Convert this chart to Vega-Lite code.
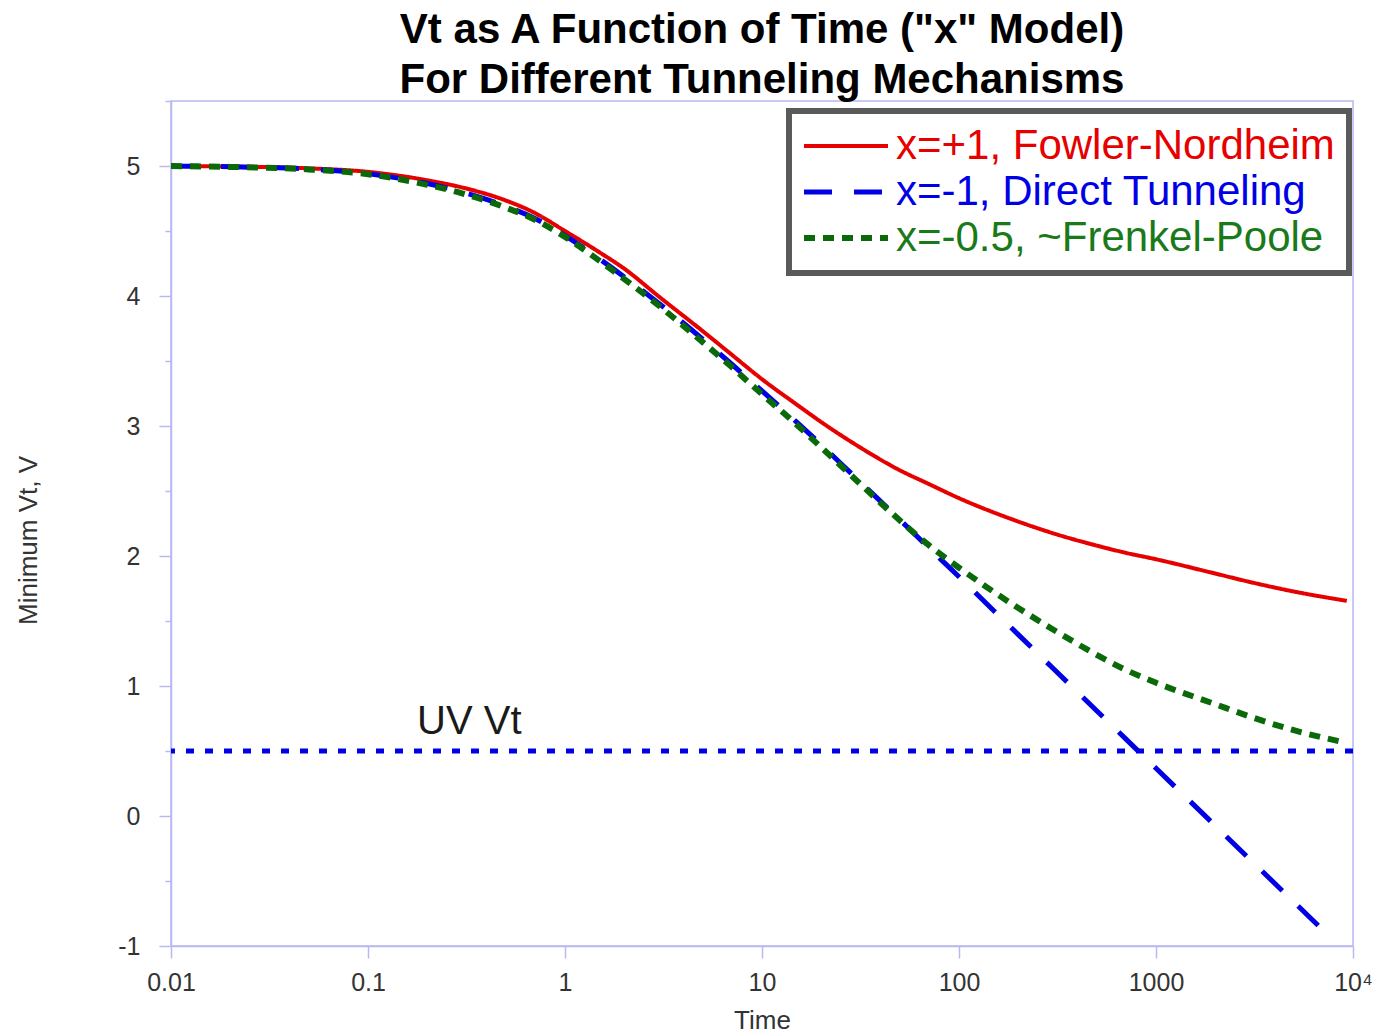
{
  "$schema": "https://vega.github.io/schema/vega-lite/v6.json",
  "width": 1182,
  "height": 845,
  "autosize": {"type": "none"},
  "padding": {"left": 171, "top": 101, "right": 27, "bottom": 88},
  "background": "white",
  "title": {
    "text": ["Vt as A Function of Time (\"x\" Model)", "For Different Tunneling Mechanisms"],
    "font": "Liberation Sans",
    "fontSize": 42,
    "fontWeight": "bold",
    "color": "#000000",
    "lineHeight": 50,
    "anchor": "middle",
    "offset": -2
  },
  "config": {
    "view": {"stroke": "#b8b8f2", "strokeWidth": 1.5},
    "font": "Liberation Sans"
  },
  "datasets": {
    "curves": [
      {"t": 0.01, "v": 5.0, "s": "FN"}, {"t": 0.02, "v": 4.996, "s": "FN"}, {"t": 0.05, "v": 4.982, "s": "FN"}, {"t": 0.1, "v": 4.955, "s": "FN"}, {"t": 0.2, "v": 4.89, "s": "FN"}, {"t": 0.3, "v": 4.835, "s": "FN"}, {"t": 0.5, "v": 4.735, "s": "FN"}, {"t": 0.7, "v": 4.64, "s": "FN"}, {"t": 1, "v": 4.5, "s": "FN"}, {"t": 1.5, "v": 4.335, "s": "FN"}, {"t": 2, "v": 4.21, "s": "FN"}, {"t": 3, "v": 3.995, "s": "FN"}, {"t": 5, "v": 3.73, "s": "FN"}, {"t": 7, "v": 3.55, "s": "FN"}, {"t": 10, "v": 3.36, "s": "FN"}, {"t": 15, "v": 3.165, "s": "FN"}, {"t": 20, "v": 3.03, "s": "FN"}, {"t": 30, "v": 2.855, "s": "FN"}, {"t": 50, "v": 2.66, "s": "FN"}, {"t": 70, "v": 2.555, "s": "FN"}, {"t": 100, "v": 2.445, "s": "FN"}, {"t": 200, "v": 2.265, "s": "FN"}, {"t": 300, "v": 2.175, "s": "FN"}, {"t": 500, "v": 2.08, "s": "FN"}, {"t": 700, "v": 2.025, "s": "FN"}, {"t": 1000, "v": 1.975, "s": "FN"}, {"t": 2000, "v": 1.865, "s": "FN"}, {"t": 3000, "v": 1.8, "s": "FN"}, {"t": 5000, "v": 1.727, "s": "FN"}, {"t": 9300, "v": 1.655, "s": "FN"},
      {"t": 0.01, "v": 5.0, "s": "DT"}, {"t": 0.02, "v": 4.994, "s": "DT"}, {"t": 0.05, "v": 4.976, "s": "DT"}, {"t": 0.1, "v": 4.94, "s": "DT"}, {"t": 0.2, "v": 4.865, "s": "DT"}, {"t": 0.3, "v": 4.8, "s": "DT"}, {"t": 0.5, "v": 4.691, "s": "DT"}, {"t": 0.7, "v": 4.598, "s": "DT"}, {"t": 1, "v": 4.465, "s": "DT"}, {"t": 1.5, "v": 4.284, "s": "DT"}, {"t": 2, "v": 4.147, "s": "DT"}, {"t": 3, "v": 3.943, "s": "DT"}, {"t": 5, "v": 3.668, "s": "DT"}, {"t": 7, "v": 3.477, "s": "DT"}, {"t": 10, "v": 3.27, "s": "DT"}, {"t": 15, "v": 3.03, "s": "DT"}, {"t": 20, "v": 2.855, "s": "DT"}, {"t": 30, "v": 2.6, "s": "DT"}, {"t": 50, "v": 2.28, "s": "DT"}, {"t": 70, "v": 2.065, "s": "DT"}, {"t": 100, "v": 1.84, "s": "DT"}, {"t": 200, "v": 1.395, "s": "DT"}, {"t": 300, "v": 1.136, "s": "DT"}, {"t": 500, "v": 0.81, "s": "DT"}, {"t": 700, "v": 0.595, "s": "DT"}, {"t": 1000, "v": 0.367, "s": "DT"}, {"t": 2000, "v": -0.075, "s": "DT"}, {"t": 3000, "v": -0.334, "s": "DT"}, {"t": 5000, "v": -0.66, "s": "DT"}, {"t": 7200, "v": -0.893, "s": "DT"},
      {"t": 0.01, "v": 5.0, "s": "FP"}, {"t": 0.02, "v": 4.993, "s": "FP"}, {"t": 0.05, "v": 4.974, "s": "FP"}, {"t": 0.1, "v": 4.937, "s": "FP"}, {"t": 0.2, "v": 4.855, "s": "FP"}, {"t": 0.3, "v": 4.79, "s": "FP"}, {"t": 0.5, "v": 4.68, "s": "FP"}, {"t": 0.7, "v": 4.588, "s": "FP"}, {"t": 1, "v": 4.455, "s": "FP"}, {"t": 1.5, "v": 4.27, "s": "FP"}, {"t": 2, "v": 4.13, "s": "FP"}, {"t": 3, "v": 3.925, "s": "FP"}, {"t": 5, "v": 3.645, "s": "FP"}, {"t": 7, "v": 3.455, "s": "FP"}, {"t": 10, "v": 3.245, "s": "FP"}, {"t": 15, "v": 3.01, "s": "FP"}, {"t": 20, "v": 2.835, "s": "FP"}, {"t": 30, "v": 2.585, "s": "FP"}, {"t": 50, "v": 2.275, "s": "FP"}, {"t": 70, "v": 2.085, "s": "FP"}, {"t": 100, "v": 1.91, "s": "FP"}, {"t": 200, "v": 1.6, "s": "FP"}, {"t": 300, "v": 1.435, "s": "FP"}, {"t": 500, "v": 1.24, "s": "FP"}, {"t": 700, "v": 1.125, "s": "FP"}, {"t": 1000, "v": 1.025, "s": "FP"}, {"t": 2000, "v": 0.86, "s": "FP"}, {"t": 3000, "v": 0.765, "s": "FP"}, {"t": 5000, "v": 0.66, "s": "FP"}, {"t": 8500, "v": 0.575, "s": "FP"}
    ],
    "uv": [{"v": 0.5}],
    "note": [{"t": 0.1775, "v": 0.63, "label": "UV Vt"}]
  },
  "encoding": {
    "y": {
      "field": "v",
      "type": "quantitative",
      "scale": {"domain": [-1, 5.5], "nice": false, "zero": false},
      "axis": {
        "title": "Minimum Vt, V",
        "values": [-1, -0.5, 0, 0.5, 1, 1.5, 2, 2.5, 3, 3.5, 4, 4.5, 5, 5.5],
        "labelExpr": "datum.value % 1 === 0 ? '' + datum.value : ''",
        "grid": false,
        "tickSize": {"condition": {"test": "datum.value % 1 !== 0", "value": 6}, "value": 12},
        "tickColor": "#b8b8f2",
        "tickWidth": 1.5,
        "domainColor": "#b8b8f2",
        "domainWidth": 1.5,
        "labelFontSize": 25,
        "labelColor": "#333333",
        "labelPadding": 19,
        "labelFlush": false,
        "titleFontSize": 26,
        "titleFontWeight": "normal",
        "titleColor": "#333333",
        "titleX": -130,
        "titleY": 439
      }
    }
  },
  "layer": [
    {
      "data": {"name": "curves"},
      "mark": {"type": "line", "clip": true, "interpolate": "monotone"},
      "encoding": {
        "x": {
          "field": "t",
          "type": "quantitative",
          "scale": {"type": "log", "domain": [0.01, 10000], "nice": false},
          "axis": {
            "title": "Time",
            "values": [0.01, 0.1, 1, 10, 100, 1000, 10000],
            "labelExpr": "datum.value >= 10000 ? '10⁴' : datum.value >= 1 ? format(datum.value, 'd') : datum.value >= 0.1 ? '0.1' : '0.01'",
            "grid": false,
            "tickSize": 12,
            "tickColor": "#b8b8f2",
            "tickWidth": 1.5,
            "domainColor": "#b8b8f2",
            "domainWidth": 1.5,
            "labelFontSize": 25,
            "labelColor": "#333333",
            "labelPadding": 12,
            "labelFlush": false,
            "titleFontSize": 26,
            "titleFontWeight": "normal",
            "titleColor": "#333333",
            "titlePadding": 12
          }
        },
        "color": {
          "field": "s",
          "type": "nominal",
          "scale": {"domain": ["FN", "DT", "FP"], "range": ["#e60000", "#0000e6", "#0a6a0a"]},
          "legend": {
            "title": null,
            "orient": "none",
            "legendX": 618,
            "legendY": 10,
            "padding": 14,
            "rowPadding": 4,
            "labelFontSize": 42,
            "labelFont": "Liberation Sans",
            "labelLimit": 900,
            "labelOffset": 29,
            "symbolType": "M-4,0H4",
            "symbolSize": 441,
            "symbolOffset": 22,
            "fillColor": "white",
            "labelExpr": "datum.value == 'FN' ? 'x=+1, Fowler-Nordheim' : datum.value == 'DT' ? 'x=-1, Direct Tunneling' : 'x=-0.5, ~Frenkel-Poole'",
            "encode": {
              "legend": {"update": {"stroke": {"value": "#5a5a5a"}, "strokeWidth": {"value": 6}}},
              "labels": {"update": {"fill": {"signal": "datum.value == 'FN' ? '#e60000' : datum.value == 'DT' ? '#0000e6' : '#1a7a1a'"}}}
            }
          }
        },
        "strokeDash": {
          "field": "s",
          "type": "nominal",
          "scale": {"domain": ["FN", "DT", "FP"], "range": [[1, 0], [28, 22], [11, 8]]}
        },
        "strokeWidth": {
          "field": "s",
          "type": "nominal",
          "scale": {"domain": ["FN", "DT", "FP"], "range": [4, 6, 5]}
        }
      }
    },
    {
      "data": {"name": "uv"},
      "mark": {"type": "rule", "color": "#0000e6", "strokeWidth": 5, "strokeDash": [8, 11]},
      "encoding": {}
    },
    {
      "data": {"name": "note"},
      "mark": {"type": "text", "align": "left", "baseline": "alphabetic", "fontSize": 40, "font": "Liberation Sans", "color": "#1a1a1a"},
      "encoding": {
        "x": {"field": "t", "type": "quantitative"},
        "text": {"field": "label"}
      }
    }
  ]
}
